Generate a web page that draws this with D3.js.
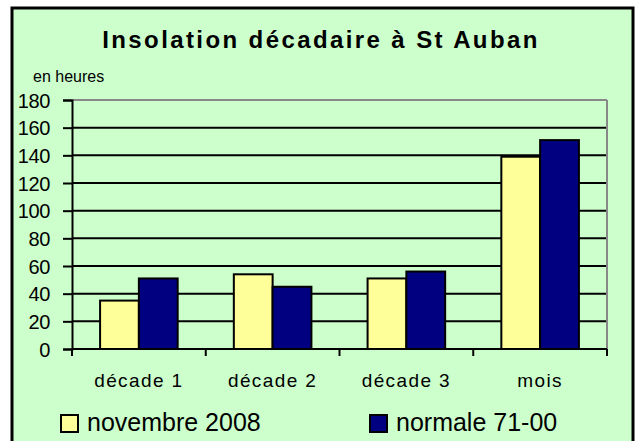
<!DOCTYPE html>
<html>
<head>
<meta charset="utf-8">
<script src="https://cdn.jsdelivr.net/npm/d3@7"></script>
<style>
  body { margin: 0; background: #fff; }
  svg text { font-family: "Liberation Sans", Arial, sans-serif; fill: #000; }
</style>
</head>
<body>
<script>
const categories = ["décade 1", "décade 2", "décade 3", "mois"];
const seriesNames = ["novembre 2008", "normale 71-00"];
const nov2008 = [35, 54, 51, 139];
const normale = [51, 45, 56, 151];
const yTicks = [0, 20, 40, 60, 80, 100, 120, 140, 160, 180];
const colors = ["#FFFF99", "#000080"];

const W = 638, H = 441;
const svg = d3.select("body").append("svg").attr("width", W).attr("height", H);

// fond vert + cadre
svg.append("rect").attr("x", 12).attr("y", 8).attr("width", 621).attr("height", 445)
    .attr("fill", "#CCFFCC").attr("stroke", "#000").attr("stroke-width", 3);

const plot = {left: 72, right: 607, top: 100, bottom: 349};

const x = d3.scaleBand().domain(categories).range([plot.left, plot.right]).paddingInner(0).paddingOuter(0);
const y = d3.scaleLinear().domain([0, 180]).range([plot.bottom, plot.top]);

svg.append("text").attr("x", 321).attr("y", 48).attr("text-anchor", "middle")
    .style("font-size", "24px").style("font-weight", "bold").style("letter-spacing", "2.4px")
    .text("Insolation décadaire à St Auban");

svg.append("text").attr("x", 33).attr("y", 82).style("font-size", "16px").text("en heures");

// quadrillage
svg.append("g").selectAll("line").data(yTicks.filter(d => d > 0)).join("line")
    .attr("x1", plot.left).attr("x2", plot.right)
    .attr("y1", d => y(d)).attr("y2", d => y(d))
    .attr("stroke", d => d === 180 ? "#888" : "#000").attr("stroke-width", 2);
svg.append("line").attr("x1", plot.right).attr("x2", plot.right)
    .attr("y1", plot.top).attr("y2", plot.bottom).attr("stroke", "#888").attr("stroke-width", 2);

// barres
const groupW = x.bandwidth() * 0.58, barW = groupW / 2;
const rows = categories.map((c, i) => [nov2008[i], normale[i]]);
const g = svg.append("g").selectAll("g").data(rows).join("g")
    .attr("transform", (d, i) => "translate(" + (x(categories[i]) + (x.bandwidth() - groupW) / 2) + ",0)");
g.selectAll("rect").data(d => d).join("rect")
    .attr("x", (d, j) => j * barW).attr("width", barW)
    .attr("y", d => y(d)).attr("height", d => y(0) - y(d))
    .attr("fill", (d, j) => colors[j]).attr("stroke", "#000").attr("stroke-width", 2);

// axes
const yAxis = svg.append("g").attr("transform", "translate(" + plot.left + ",0)")
    .call(d3.axisLeft(y).tickValues(yTicks).tickSize(9).tickPadding(13));
yAxis.selectAll("text").style("font-size", "20px").style("letter-spacing", "-0.4px").attr("dy", "0.36em");

const xAxis = svg.append("g").attr("transform", "translate(0," + plot.bottom + ")")
    .call(d3.axisBottom(x).tickSize(0).tickPadding(25));
xAxis.selectAll("text").style("font-size", "19px").style("letter-spacing", "1.4px");
xAxis.selectAll(".domain").remove();
svg.append("g").selectAll("line").data(categories.concat(["end"])).join("line")
    .attr("x1", (d, i) => plot.left + i * x.step()).attr("x2", (d, i) => plot.left + i * x.step())
    .attr("y1", plot.bottom).attr("y2", plot.bottom + 7).attr("stroke", "#000").attr("stroke-width", 2);
svg.append("line").attr("x1", plot.left).attr("x2", plot.right)
    .attr("y1", plot.bottom).attr("y2", plot.bottom).attr("stroke", "#000").attr("stroke-width", 2);

svg.selectAll(".domain, .tick line").attr("stroke", "#000").attr("stroke-width", 2);

// légende
const legX = [61, 370];
const leg = svg.append("g").selectAll("g").data(seriesNames).join("g")
    .attr("transform", (d, i) => "translate(" + legX[i] + ",415)");
leg.append("rect").attr("width", 17).attr("height", 17)
    .attr("fill", (d, i) => colors[i]).attr("stroke", "#000").attr("stroke-width", 2);
leg.append("text").attr("x", 26).attr("y", 16).style("font-size", "25px").text(d => d);
</script>
</body>
</html>
